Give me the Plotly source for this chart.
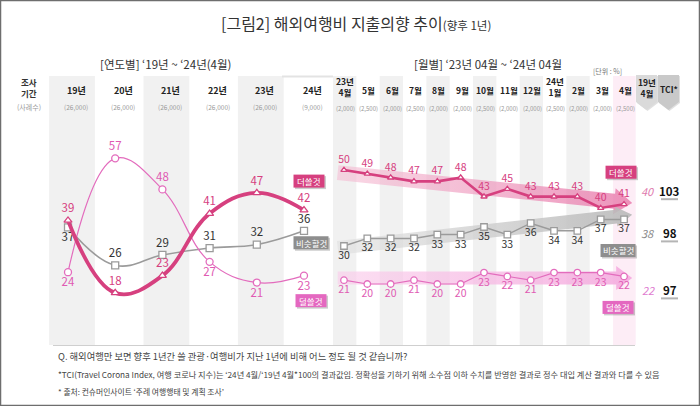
import math
import plotly.graph_objects as go

# ---------------- data ----------------
SERIES = ['더쓸것', '비슷할것', '덜쓸것']

YEARS = ['19년', '20년', '21년', '22년', '23년', '24년']
YEAR_N = ['(26,000)', '(26,000)', '(26,000)', '(26,000)', '(26,000)', '(9,000)']
YEAR_MORE = [39, 18, 23, 41, 47, 42]
YEAR_SAME = [37, 26, 29, 31, 32, 36]
YEAR_LESS = [24, 57, 48, 27, 21, 23]

MONTHS = ['23년<br>4월', '5월', '6월', '7월', '8월', '9월', '10월', '11월', '12월',
          '24년<br>1월', '2월', '3월', '4월']
MONTH_N = ['(2,000)', '(2,500)', '(2,000)', '(2,500)', '(2,000)', '(2,000)', '(2,500)',
           '(2,000)', '(2,000)', '(2,500)', '(2,000)', '(2,000)', '(2,500)']
MONTH_MORE = [50, 49, 48, 47, 47, 48, 43, 45, 43, 43, 43, 40, 41]
MONTH_SAME = [30, 32, 32, 32, 33, 33, 35, 33, 36, 34, 34, 37, 37]
MONTH_LESS = [21, 20, 20, 21, 20, 20, 23, 22, 21, 23, 23, 23, 22]

BASE_1904 = [40, 38, 22]
TCI = [103, 98, 97]

TREND_START = [49.3, 29.5, 21.6]
TREND_END = [41.3, 38.2, 21.6]

# ---------------- geometry / style ----------------
W, H = 700, 406
FONT = 'Noto Sans CJK KR'


def px(x):
    return x / W


def py(y):
    return 1 - y / H


nY, nM = len(YEARS), len(MONTHS)
YX0, YX1 = 44.4, 327.6
MX0, MX1 = 332.3, 635.7
Y1_BASE, Y1_K = 355.0, 3.45
Y2_BASE, Y2_K = 360.0, 3.8
y1_range = [(Y1_BASE - H) / Y1_K, Y1_BASE / Y1_K]
y2_range = [(Y2_BASE - H) / Y2_K, Y2_BASE / Y2_K]
SX1 = (YX1 - YX0) / nY
SX2 = (MX1 - MX0) / nM


def xp1(i):
    return YX0 + (i + 0.5) * SX1


def xp2(i):
    return MX0 + (i + 0.5) * SX2


def yp1(v):
    return Y1_BASE - Y1_K * v


def yp2(v):
    return Y2_BASE - Y2_K * v


C_MORE = '#d6407f'
C_SAME = '#9b9b9b'
C_LESS = '#e36cbd'
T_LESS = '#e05bb3'
BAND = '#f1f1f1'
PINKBAND = '#fdedf6'

fig = go.Figure()


# ---------- trend arrows (monthly) ----------
def arrow(i0, v0, i1, v1, hs, hh, hl):
    X0, Y0, X1, Y1 = i0 * SX2, v0 * Y2_K, i1 * SX2, v1 * Y2_K
    dx, dy = X1 - X0, Y1 - Y0
    L = math.hypot(dx, dy)
    ux, uy = dx / L, dy / L
    nx, ny = -uy, ux
    bx, by = X1 - ux * hl, Y1 - uy * hl
    pts = [(X0 + nx * hs, Y0 + ny * hs), (bx + nx * hs, by + ny * hs),
           (bx + nx * hh, by + ny * hh), (X1, Y1), (bx - nx * hh, by - ny * hh),
           (bx - nx * hs, by - ny * hs), (X0 - nx * hs, Y0 - ny * hs),
           (X0 + nx * hs, Y0 + ny * hs)]
    return [p[0] / SX2 for p in pts], [p[1] / Y2_K for p in pts]


ARROW_STYLE = [
    (7.5, 13, 18, 'rgba(245,190,212,0.6)', 'rgba(232,120,170,0.8)'),
    (7.0, 10, 16, 'rgba(225,225,225,0.65)', 'rgba(185,185,185,0.9)'),
    (6.5, 12, 16, 'rgba(250,205,235,0.65)', 'rgba(244,170,222,0.9)'),
]
for k in range(3):
    hs, hh, hl, c0, c1 = ARROW_STYLE[k]
    ax_, ay_ = arrow(-0.27, TREND_START[k], nM - 1 + 0.35, TREND_END[k], hs, hh, hl)
    fig.add_trace(go.Scatter(
        x=ax_, y=ay_, mode='lines', fill='toself', line=dict(width=0),
        fillgradient=dict(type='horizontal', colorscale=[[0, c0], [1, c1]]),
        xaxis='x2', yaxis='y2', hoverinfo='skip', showlegend=False))


# ---------- series ----------
def series(xs, ys, axis, color, width, symbol, msize, tcolor, tpos, spline, tsize):
    fig.add_trace(go.Scatter(
        x=xs, y=ys, mode='lines+markers+text',
        line=dict(color=color, width=width, shape='spline' if spline else 'linear',
                  smoothing=1.15),
        marker=dict(symbol=symbol, size=msize, color='white',
                    line=dict(color=color, width=1.3)),
        text=[str(v) for v in ys], textposition=tpos,
        textfont=dict(family=FONT, size=tsize, color=tcolor),
        xaxis='x' if axis == 1 else 'x2', yaxis='y' if axis == 1 else 'y2',
        cliponaxis=False, hoverinfo='skip', showlegend=False))


yi = list(range(nY))
mi = list(range(nM))
series(yi, YEAR_SAME, 1, C_SAME, 1.6, 'square', 7, '#333333',
       ['bottom center'] + ['top center'] * 5, True, 11.5)
series(yi, YEAR_LESS, 1, C_LESS, 1.2, 'circle', 7, T_LESS,
       ['bottom center', 'top center', 'top center', 'bottom center', 'bottom center',
        'bottom center'], True, 11.5)
series(yi, YEAR_MORE, 1, C_MORE, 3.8, 'triangle-up', 7, C_MORE, 'top center', True, 11.5)

series(mi, MONTH_SAME, 2, C_SAME, 1.5, 'square', 6.5, '#333333', 'bottom center', False, 10.5)
series(mi, MONTH_LESS, 2, C_LESS, 1.2, 'circle', 6.5, T_LESS, 'bottom center', False, 10.5)
series(mi, MONTH_MORE, 2, C_MORE, 2.6, 'triangle-up', 5.5, C_MORE, 'top center', False, 10.5)

# ---------- shapes ----------
shapes = []
ann = []
TOP, BOT = 76, 345
for i in range(0, nY, 2):
    shapes.append(dict(type='rect', xref='x', yref='paper', x0=i - 0.4, x1=i + 0.57,
                       y0=py(BOT), y1=py(TOP), fillcolor=BAND, line=dict(width=0),
                       layer='below'))
for i in range(0, nM, 2):
    shapes.append(dict(type='rect', xref='x2', yref='paper', x0=i - 0.47, x1=i + 0.53,
                       y0=py(BOT), y1=py(TOP),
                       fillcolor=PINKBAND if i == nM - 1 else BAND,
                       line=dict(width=0), layer='below'))
# top edge of the 24년 column
shapes.append(dict(type='line', xref='paper', yref='paper', x0=px(282), x1=px(333),
                   y0=py(76.5), y1=py(76.5), line=dict(color='#e3e3e3', width=2)))
# bottom rule
shapes.append(dict(type='line', xref='paper', yref='paper', x0=px(53), x1=px(635),
                   y0=py(345.5), y1=py(345.5), line=dict(color='#cfcfcf', width=1)))
# chevron headers (19년 4월 / TCI*)
for (xa, xb, col) in [(636, 657, '#dadada'), (658, 679, '#c9c9c9')]:
    xm = (xa + xb) / 2
    shapes.append(dict(type='path', xref='paper', yref='paper',
                       path=f'M{px(xa+1)},{py(76)} L{px(xb+1)},{py(76)} L{px(xb+1)},{py(103)} '
                            f'L{px(xm+1)},{py(111)} L{px(xa+1)},{py(103)} Z',
                       fillcolor='rgba(0,0,0,0.12)', line=dict(width=0)))
    shapes.append(dict(type='path', xref='paper', yref='paper',
                       path=f'M{px(xa)},{py(75)} L{px(xb)},{py(75)} L{px(xb)},{py(102)} '
                            f'L{px(xm)},{py(110)} L{px(xa)},{py(102)} Z',
                       fillcolor=col, line=dict(width=0)))


def A(text, x, y, size, color='#333333', xref='paper', yref='paper', xanchor='center',
      yanchor='middle', **kw):
    ann.append(dict(text=text, x=x, y=y, xref=xref, yref=yref, xanchor=xanchor,
                    yanchor=yanchor, showarrow=False,
                    font=dict(family=FONT, size=size, color=color), **kw))


# series tags (box shapes + white text)
TAG_BG = [C_MORE, '#8e8e8e', '#e468c0']
TAG_W = [31, 35, 31]
TAG_H = 13


def tag(k, cx, cy):
    w = TAG_W[k]
    shapes.append(dict(type='rect', xref='paper', yref='paper',
                       x0=px(cx - w / 2 + 1.5), x1=px(cx + w / 2 + 1.5),
                       y0=py(cy + TAG_H / 2 + 1.5), y1=py(cy - TAG_H / 2 + 1.5),
                       fillcolor='rgba(0,0,0,0.2)', line=dict(width=0)))
    shapes.append(dict(type='rect', xref='paper', yref='paper',
                       x0=px(cx - w / 2), x1=px(cx + w / 2),
                       y0=py(cy + TAG_H / 2), y1=py(cy - TAG_H / 2),
                       fillcolor=TAG_BG[k], line=dict(width=0)))
    A(SERIES[k], px(cx), py(cy), 8.5, 'white')


tag(0, xp1(nY - 1) + 5, yp1(YEAR_MORE[-1]) - 29)
tag(1, xp1(nY - 1) + 7, yp1(YEAR_SAME[-1]) + 12)
tag(2, xp1(nY - 1) + 7, yp1(YEAR_LESS[-1]) + 25)
tag(0, xp2(nM - 1) - 3, yp2(MONTH_MORE[-1]) - 32)
tag(1, xp2(nM - 1) - 6, yp2(MONTH_SAME[-1]) + 31)
tag(2, xp2(nM - 1) - 6, yp2(MONTH_LESS[-1]) + 31)

# 19년 4월 base values and TCI
LAST = [MONTH_MORE[-1], MONTH_SAME[-1], MONTH_LESS[-1]]
SHIFT = [-13.5, 13.5, 13.5]
BASE_COL = ['#e07aae', '#8a8a8a', '#e07ad0']
for k in range(3):
    yrow = yp2(LAST[k]) + SHIFT[k]
    A(f"<i>{BASE_1904[k]}</i>", px(648), py(yrow), 11, BASE_COL[k])
    A(f"<b>{TCI[k]}</b>", px(669.5), py(yrow), 11.5, '#111111')
    shapes.append(dict(type='line', xref='paper', yref='paper', x0=px(661), x1=px(678),
                       y0=py(yrow + 8.5), y1=py(yrow + 8.5),
                       line=dict(color='#b5b5b5', width=2)))

# frame
shapes.append(dict(type='rect', xref='paper', yref='paper', x0=0, x1=1, y0=0, y1=1,
                   line=dict(color='#6e6e6e', width=2.5)))

# ---------- texts ----------
A("[그림2] 해외여행비 지출의향 추이<span style='font-size:11.5px'>(향후 1년)</span>",
  px(356), py(23), 16, '#333333')
A("[연도별] ‘19년 ~ ‘24년(4월)", px(165), py(64), 11.5, '#333333')
A("[월별] ‘23년 04월 ~ ‘24년 04월", px(488), py(64), 11.5, '#333333')
A("[단위 : %]", px(607), py(71), 7, '#777777')

A("<b>조사<br>기간</b>", px(29), py(87), 8.5, '#333333')
A("(사례수)", px(29), py(107), 7, '#9a9a9a')
for i in range(nY):
    A(f"<b>{YEARS[i]}</b>", i + 0.17, py(90), 9, '#222222', xref='x')
    A(YEAR_N[i], i + 0.17, py(107.5), 6.5, '#9a9a9a', xref='x')
for i in range(nM):
    two = '<br>' in MONTHS[i]
    A(f"<b>{MONTHS[i]}</b>", i + 0.06, py(86.5 if two else 90), 8.5, '#222222', xref='x2')
    A(MONTH_N[i], i + 0.06, py(108), 6, '#9a9a9a', xref='x2')
A("<b>19년<br>4월</b>", px(646.5), py(88), 8.5, '#222222')
A("<b>TCI*</b>", px(668.5), py(89), 8.5, '#222222')

# footnotes
A("Q. 해외여행만 보면 향후 1년간 쓸 관광·여행비가 지난 1년에 비해 어느 정도 될 것 같습니까?",
  px(56), py(356), 9.3, '#444444', xanchor='left')
A("*TCI(Travel Corona Index, 여행 코로나 지수)는 ‘24년 4월/‘19년 4월*100의 결과값임. "
  "정확성을 기하기 위해 소수점 이하 수치를 반영한 결과로 정수 대입 계산 결과와 다를 수 있음",
  px(56), py(373.5), 8.2, '#444444', xanchor='left')
A("* 출처: 컨슈머인사이트 ‘주례 여행행태 및 계획 조사’",
  px(56), py(391), 7.8, '#444444', xanchor='left')

axis_off = dict(showgrid=False, zeroline=False, showticklabels=False, showline=False,
                ticks='', fixedrange=True)
fig.update_layout(
    width=W, height=H, margin=dict(l=0, r=0, t=0, b=0),
    paper_bgcolor='white', plot_bgcolor='rgba(0,0,0,0)', showlegend=False,
    font=dict(family=FONT), hovermode=False,
    xaxis=dict(domain=[px(YX0), px(YX1)], range=[-0.5, nY - 0.5], **axis_off),
    yaxis=dict(domain=[0, 1], range=y1_range, **axis_off),
    xaxis2=dict(domain=[px(MX0), px(MX1)], range=[-0.5, nM - 0.5], anchor='y2', **axis_off),
    yaxis2=dict(domain=[0, 1], range=y2_range, anchor='x2', **axis_off),
    shapes=shapes, annotations=ann,
)

fig.write_html("out.html", config={'displayModeBar': False, 'staticPlot': True},
               post_script="document.body.style.margin='0px';")
